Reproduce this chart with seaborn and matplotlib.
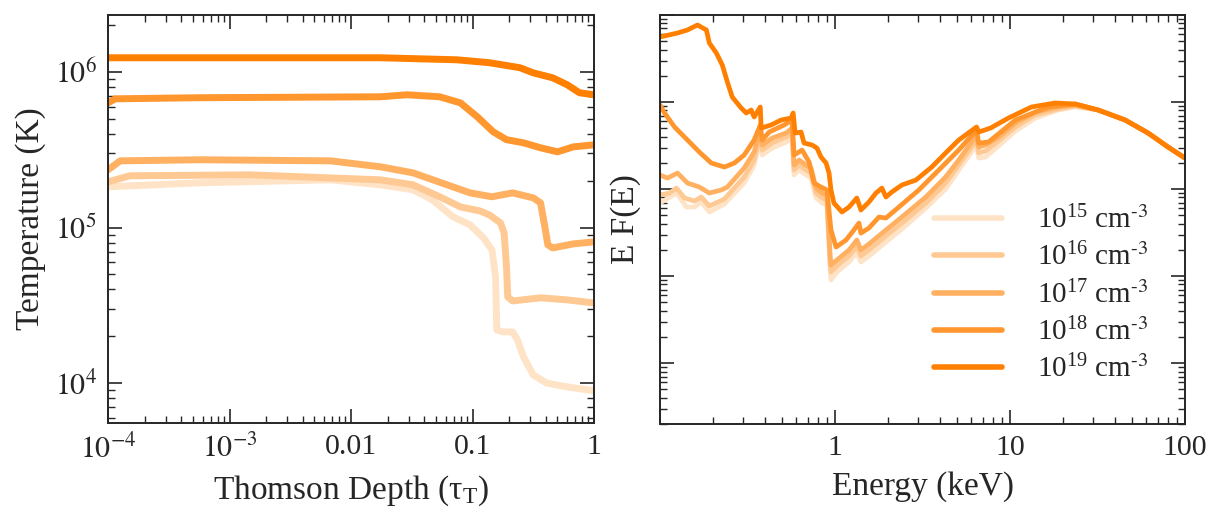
import numpy as np
import pandas as pd
import matplotlib
matplotlib.use("Agg")
import matplotlib.pyplot as plt
from matplotlib.ticker import LogLocator, NullFormatter, FixedLocator, FixedFormatter
import seaborn as sns

# ---------------------------------------------------------------
# Temperature profiles: log10(Thomson depth), log10(T / K)
# ---------------------------------------------------------------
densities = ["15", "16", "17", "18", "19"]

tau15 = [-4.0, -3.24, -2.17, -1.76, -1.49, -1.33, -1.16, -1.02, -0.91, -0.84, -0.81, -0.80, -0.75, -0.67, -0.63, -0.58, -0.50, -0.39, -0.22, 0.0]
temp15 = [5.262, 5.288, 5.307, 5.275, 5.243, 5.178, 5.069, 5.017, 4.934, 4.857, 4.683, 4.342, 4.329, 4.329, 4.277, 4.168, 4.052, 4.000, 3.975, 3.950]

tau16 = [-4.0, -3.82, -2.83, -1.76, -1.49, -1.27, -1.10, -0.94, -0.86, -0.77, -0.74, -0.72, -0.71, -0.67, -0.44, -0.22, 0.0]
temp16 = [5.294, 5.333, 5.339, 5.307, 5.275, 5.198, 5.133, 5.107, 5.081, 5.030, 4.966, 4.747, 4.554, 4.528, 4.548, 4.535, 4.515]

tau17 = [-4.0, -3.90, -3.24, -2.17, -1.76, -1.49, -1.21, -1.02, -0.84, -0.67, -0.50, -0.44, -0.40, -0.38, -0.34, -0.17, 0.0]
temp17 = [5.371, 5.429, 5.436, 5.429, 5.391, 5.352, 5.275, 5.223, 5.198, 5.223, 5.191, 5.159, 4.985, 4.889, 4.869, 4.895, 4.908]

tau18 = [-4.0, -3.94, -3.24, -1.76, -1.54, -1.27, -1.10, -0.96, -0.83, -0.72, -0.58, -0.44, -0.30, -0.17, 0.0]
temp18 = [5.802, 5.828, 5.835, 5.841, 5.854, 5.841, 5.802, 5.712, 5.616, 5.565, 5.545, 5.513, 5.487, 5.519, 5.532]

tau19 = [-4.0, -2.83, -1.76, -1.13, -0.86, -0.61, -0.50, -0.34, -0.22, -0.12, 0.0]
temp19 = [6.092, 6.092, 6.092, 6.079, 6.060, 6.028, 5.995, 5.963, 5.918, 5.867, 5.854]

# ---------------------------------------------------------------
# Emergent spectra: log10(E / keV), log10(E F(E)) (arbitrary units)
# ---------------------------------------------------------------
hi_tail_e = [1.504, 1.658, 1.789, 1.903, 2.0]
hi_tail_f = [-0.092, -0.207, -0.356, -0.517, -0.644]

e19 = [-1.0, -0.900, -0.843, -0.786, -0.735, -0.718, -0.678, -0.644, -0.615, -0.587, -0.536, -0.507, -0.479, -0.462,
       -0.427, -0.422, -0.365, -0.308, -0.251, -0.239, -0.228, -0.194, -0.177, -0.131, -0.103, -0.080, -0.051, -0.034,
       -0.023, -0.006, 0.040, 0.080, 0.125, 0.148, 0.194, 0.234, 0.268, 0.291, 0.325, 0.382, 0.462, 0.553, 0.632,
       0.707, 0.809, 0.821, 0.889, 0.991, 1.123, 1.259, 1.373] + hi_tail_e
f19 = [0.747, 0.793, 0.828, 0.885, 0.828, 0.678, 0.563, 0.425, 0.230, 0.057, -0.069, -0.126, -0.092, -0.172,
       -0.057, -0.299, -0.264, -0.207, -0.184, -0.126, -0.356, -0.345, -0.471, -0.494, -0.529, -0.632, -0.701, -0.816,
       -1.011, -1.161, -1.264, -1.207, -1.103, -1.241, -1.149, -1.046, -0.989, -1.092, -1.034, -0.954, -0.897, -0.747, -0.586,
       -0.437, -0.287, -0.345, -0.299, -0.184, -0.057, -0.011, -0.023] + hi_tail_f

e18 = [-1.0, -0.974, -0.917, -0.843, -0.775, -0.707, -0.632, -0.575, -0.519, -0.462, -0.427, -0.416, -0.376, -0.291,
       -0.245, -0.234, -0.188, -0.148, -0.120, -0.080, -0.046, -0.023, 0.006, 0.063, 0.108, 0.137, 0.148, 0.194,
       0.251, 0.291, 0.365, 0.479, 0.593, 0.707, 0.809, 0.821, 0.877, 1.031, 1.219, 1.373] + hi_tail_e
f18 = [-0.034, -0.126, -0.287, -0.437, -0.575, -0.701, -0.747, -0.701, -0.609, -0.437, -0.264, -0.437, -0.345, -0.264,
       -0.207, -0.609, -0.552, -0.690, -0.931, -0.977, -1.011, -1.471, -1.667, -1.586, -1.471, -1.391, -1.506, -1.448,
       -1.322, -1.333, -1.207, -1.011, -0.782, -0.552, -0.322, -0.471, -0.460, -0.207, -0.057, -0.023] + hi_tail_f

e17 = [-1.0, -0.957, -0.900, -0.843, -0.775, -0.718, -0.650, -0.615, -0.519, -0.462, -0.427, -0.416, -0.359, -0.279,
       -0.245, -0.234, -0.205, -0.165, -0.137, -0.108, -0.074, -0.046, -0.028, -0.023, 0.011, 0.080, 0.125, 0.148,
       0.194, 0.291, 0.382, 0.519, 0.632, 0.707, 0.809, 0.821, 0.860, 0.934, 1.031, 1.145, 1.276, 1.373] + hi_tail_e
f17 = [-0.839, -0.874, -0.816, -0.931, -0.977, -1.046, -1.011, -0.977, -0.759, -0.575, -0.322, -0.494, -0.414, -0.356,
       -0.299, -0.724, -0.667, -0.724, -0.759, -0.989, -1.046, -1.069, -1.759, -1.874, -1.816, -1.701, -1.586, -1.701,
       -1.632, -1.471, -1.322, -1.092, -0.862, -0.667, -0.379, -0.517, -0.494, -0.402, -0.241, -0.115, -0.057, -0.034] + hi_tail_f

e16 = [-1.0, -0.946, -0.906, -0.860, -0.803, -0.764, -0.718, -0.632, -0.519, -0.462, -0.427, -0.416, -0.359, -0.279,
       -0.245, -0.234, -0.205, -0.165, -0.137, -0.108, -0.074, -0.046, -0.028, -0.023, 0.011, 0.080, 0.125, 0.148,
       0.194, 0.291, 0.382, 0.519, 0.632, 0.707, 0.809, 0.821, 0.860, 0.934, 1.031, 1.145, 1.276, 1.373] + hi_tail_e
f16 = [-1.069, -1.046, -0.989, -1.103, -1.138, -1.092, -1.195, -1.115, -0.862, -0.667, -0.368, -0.552, -0.471, -0.402,
       -0.356, -0.782, -0.724, -0.782, -0.816, -1.046, -1.103, -1.126, -1.839, -1.954, -1.885, -1.770, -1.655, -1.770,
       -1.701, -1.540, -1.391, -1.161, -0.931, -0.724, -0.437, -0.586, -0.563, -0.448, -0.287, -0.149, -0.080, -0.046] + hi_tail_f

e15 = [-1.0, -0.906, -0.849, -0.803, -0.764, -0.718, -0.632, -0.519, -0.462, -0.427, -0.416, -0.359, -0.279,
       -0.245, -0.234, -0.205, -0.165, -0.137, -0.108, -0.074, -0.046, -0.028, -0.023, 0.011, 0.080, 0.125, 0.148,
       0.194, 0.291, 0.382, 0.519, 0.632, 0.707, 0.809, 0.821, 0.860, 0.934, 1.031, 1.145, 1.276, 1.373] + hi_tail_e
f15 = [-1.161, -1.046, -1.207, -1.207, -1.149, -1.264, -1.172, -0.931, -0.724, -0.414, -0.609, -0.529, -0.460,
       -0.414, -0.839, -0.782, -0.839, -0.874, -1.103, -1.161, -1.184, -1.908, -2.046, -1.954, -1.839, -1.724, -1.839,
       -1.770, -1.609, -1.460, -1.218, -1.000, -0.782, -0.494, -0.644, -0.632, -0.506, -0.333, -0.184, -0.092, -0.057] + hi_tail_f

# ---------------------------------------------------------------
def long_frame(xs, ys):
    rows = []
    for d, x, y in zip(densities, xs, ys):
        rows.append(pd.DataFrame({"x": 10.0 ** np.asarray(x), "y": 10.0 ** np.asarray(y),
                                  "density": d}))
    return pd.concat(rows, ignore_index=True)

temp_df = long_frame([tau15, tau16, tau17, tau18, tau19], [temp15, temp16, temp17, temp18, temp19])
spec_df = long_frame([e15, e16, e17, e18, e19], [f15, f16, f17, f18, f19])

# one orange, lightened towards white for lower densities
base = np.array([255, 127, 0]) / 255.0
alphas = [0.22, 0.42, 0.62, 0.82, 1.0]
palette = {d: tuple(1 - a * (1 - base)) for d, a in zip(densities, alphas)}

sns.set_style("ticks")
plt.rcParams["font.family"] = ["Liberation Serif", "DejaVu Serif"]
plt.rcParams["mathtext.fontset"] = "stix"
plt.rcParams["xtick.direction"] = "in"
plt.rcParams["ytick.direction"] = "in"
plt.rcParams["xtick.top"] = True
plt.rcParams["ytick.right"] = True

fig = plt.figure(figsize=(12.08, 5.14), dpi=100)
ax1 = fig.add_axes([108 / 1208, 1 - 423 / 514, (594 - 108) / 1208, (423 - 15) / 514])
ax2 = fig.add_axes([660 / 1208, 1 - 424 / 514, (1185 - 660) / 1208, (424 - 15) / 514])

sns.lineplot(data=temp_df, x="x", y="y", hue="density", palette=palette, sort=False,
             estimator=None, linewidth=5.0, ax=ax1, legend=False)
sns.lineplot(data=spec_df, x="x", y="y", hue="density", palette=palette, sort=False,
             estimator=None, linewidth=3.4, ax=ax2, legend=False)

FS_TICK = 21.5
FS_LABEL = 24
for ax in (ax1, ax2):
    ax.set_xscale("log")
    ax.set_yscale("log")
    for s in ax.spines.values():
        s.set_linewidth(1.4)
    ax.tick_params(which="major", length=10, width=1.2, labelsize=FS_TICK, pad=8)
    ax.tick_params(which="minor", length=5, width=1.0)
    ax.xaxis.set_minor_locator(LogLocator(base=10, subs=np.arange(2, 10), numticks=20))
    ax.yaxis.set_minor_locator(LogLocator(base=10, subs=np.arange(2, 10), numticks=20))
    ax.xaxis.set_minor_formatter(NullFormatter())
    ax.yaxis.set_minor_formatter(NullFormatter())

# left panel axes
ax1.set_xlim(1e-4, 1)
ax1.set_ylim(10 ** 3.743, 10 ** 6.367)
ax1.xaxis.set_major_locator(FixedLocator([1e-4, 1e-3, 1e-2, 1e-1, 1]))
ax1.xaxis.set_major_formatter(FixedFormatter([r"$10^{-4}$", r"$10^{-3}$", "0.01", "0.1", "1"]))
ax1.yaxis.set_major_locator(FixedLocator([1e4, 1e5, 1e6]))
ax1.yaxis.set_major_formatter(FixedFormatter([r"$10^{4}$", r"$10^{5}$", r"$10^{6}$"]))
ax1.set_xlabel(r"Thomson Depth ($\mathregular{\tau_T}$)", fontsize=FS_LABEL, labelpad=7)
ax1.set_ylabel("Temperature (K)", fontsize=FS_LABEL, labelpad=6)

# right panel axes
ax2.set_xlim(0.1, 100)
ax2.set_ylim(10 ** -3.70, 10 ** 1.0)
ax2.xaxis.set_major_locator(FixedLocator([0.1, 1, 10, 100]))
ax2.xaxis.set_major_formatter(FixedFormatter(["", "1", "10", "100"]))
ax2.yaxis.set_major_locator(LogLocator(base=10, numticks=20))
ax2.yaxis.set_major_formatter(NullFormatter())
ax2.set_xlabel("Energy (keV)", fontsize=FS_LABEL, labelpad=7)
ax2.set_ylabel("E F(E)", fontsize=FS_LABEL, labelpad=6)

# legend
handles = [plt.Line2D([], [], color=palette[d], linewidth=4.0) for d in densities]
labels = [r"$\mathregular{10^{%s}\ cm^{\text{-3}}}$" % d for d in densities]
ax2.legend(handles, labels, loc="lower right", bbox_to_anchor=(0.98, 0.035), frameon=False,
           fontsize=21, handlelength=2.35, handletextpad=1.2, labelspacing=0.3)

fig.savefig("out.png", dpi=100)
